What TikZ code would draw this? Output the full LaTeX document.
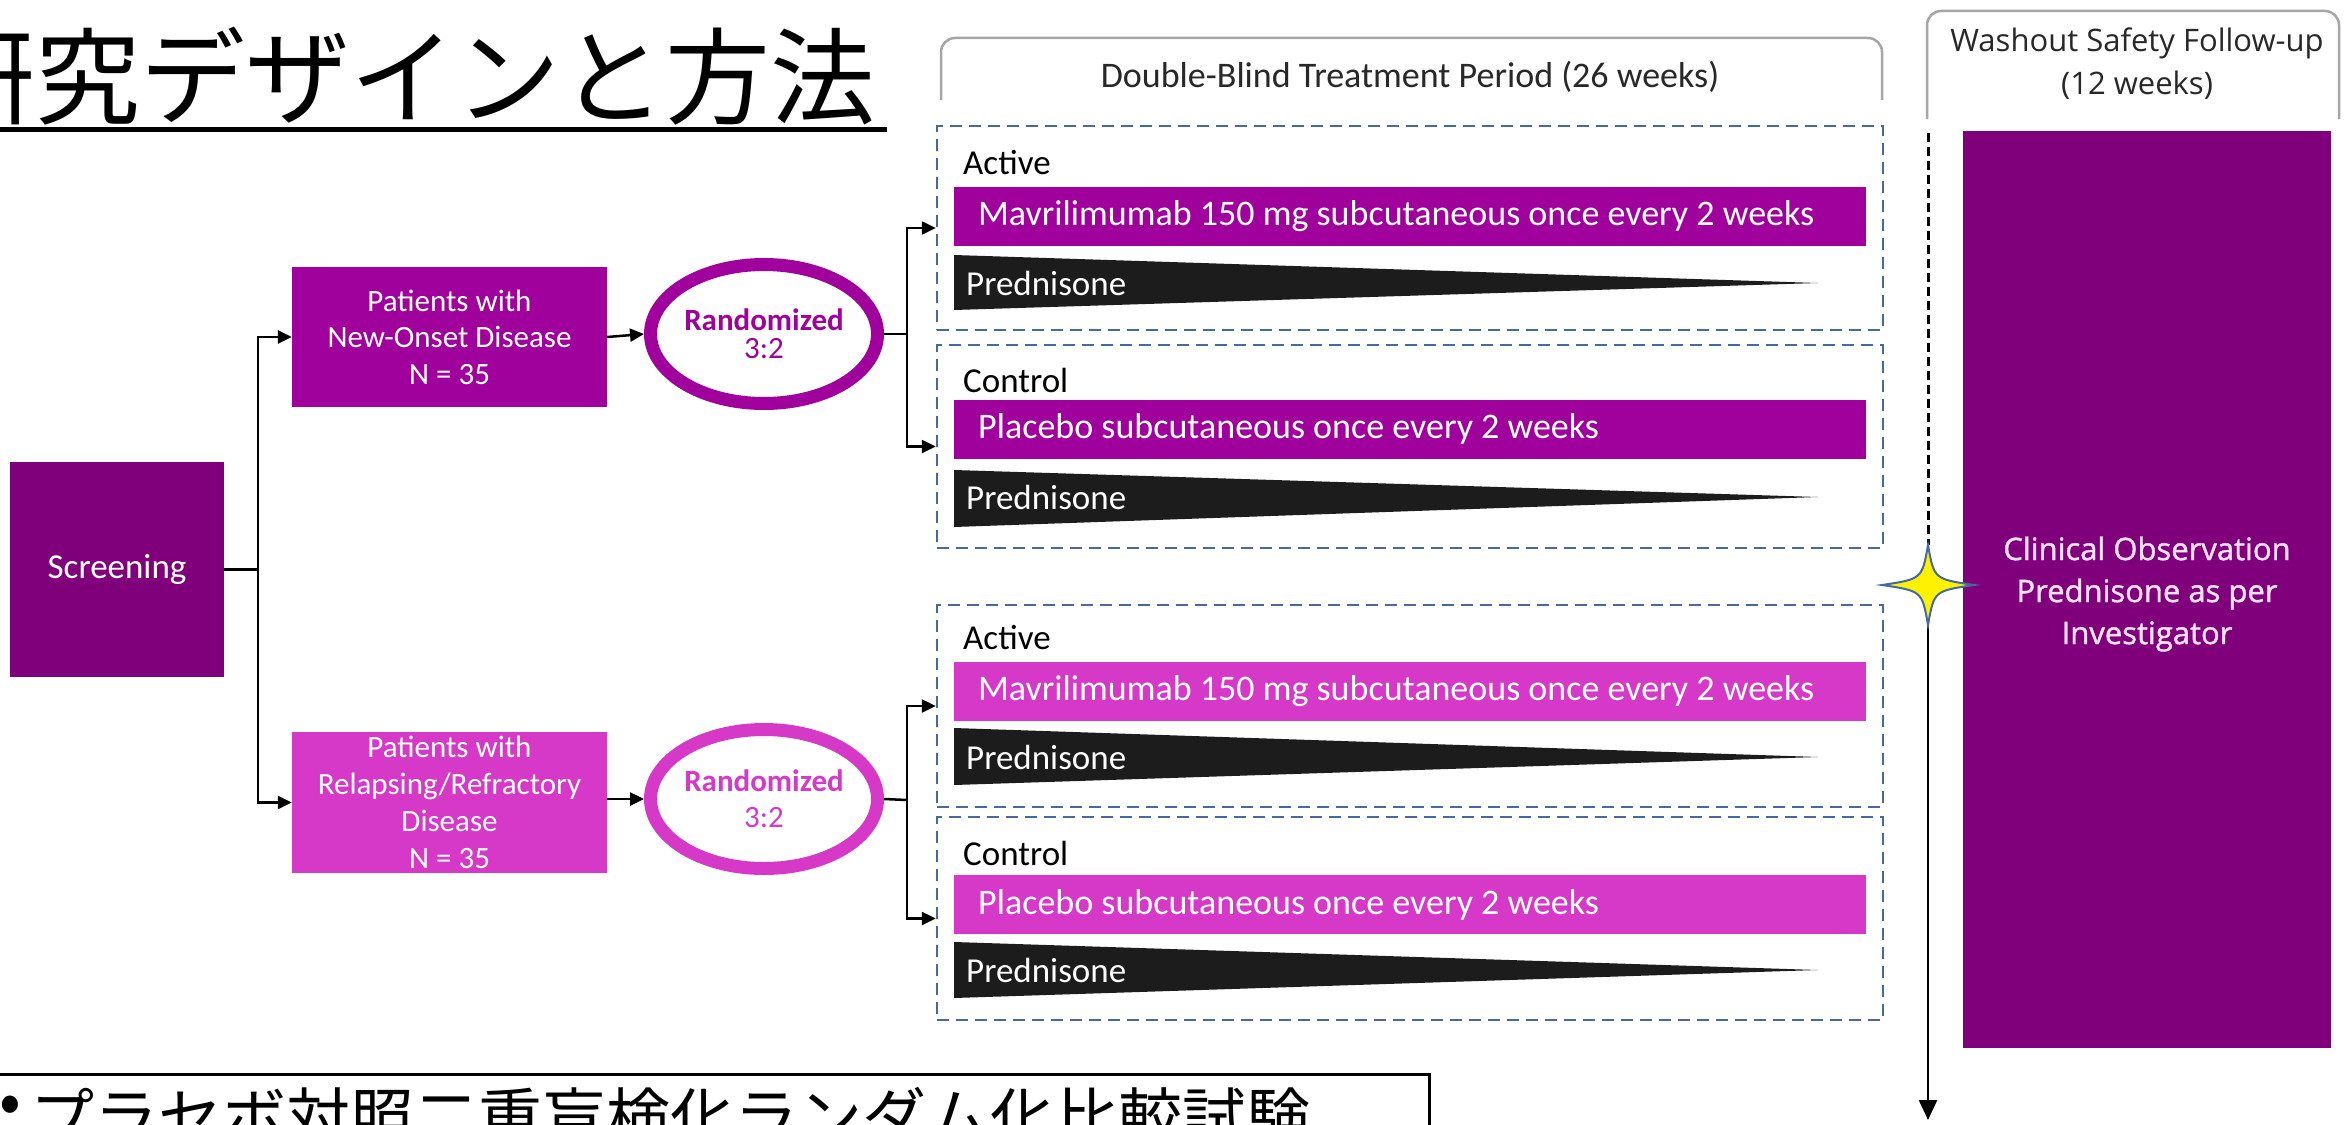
\documentclass[tikz,border=0pt]{standalone}
\usepackage{fontspec}
\setmainfont{Carlito}
\newfontfamily\osans{Open Sans}
\newfontfamily\osansb[FakeBold=1.2]{Open Sans}
\newfontfamily\cjk{Noto Sans CJK JP}
\usetikzlibrary{shapes.geometric,arrows.meta}
\definecolor{dpurp}{RGB}{128,0,124}
\definecolor{mpurp}{RGB}{160,0,155}
\definecolor{lmag}{RGB}{214,56,200}
\definecolor{dblue}{RGB}{70,105,160}
\definecolor{wedgec}{RGB}{28,28,28}
\definecolor{hgray}{RGB}{166,166,166}
\definecolor{txtdark}{RGB}{40,40,40}
\definecolor{pinkw}{RGB}{246,226,244}
\begin{document}
\begin{tikzpicture}[x=1pt,y=-1pt,
  conn/.style={line width=2.5pt, black},
  arr/.style={-{Triangle[length=14pt,width=13pt]}},
  pbox/.style={rectangle, inner sep=0pt, text=white, align=center},
  ring/.style={ellipse, line width=13pt, fill=white, minimum width=227pt, minimum height=139pt, inner sep=0pt, align=center},
  armbox/.style={rectangle, draw=dblue, dash pattern=on 12pt off 7pt, line width=2.5pt, minimum width=946pt, inner sep=0pt},
  bar/.style={rectangle, minimum height=59pt, minimum width=912pt, inner sep=0pt},
  bartext/.style={anchor=west, inner sep=0pt, text=white, font=\fontsize{36}{40}\selectfont},
  lbl/.style={anchor=west, inner sep=0pt, font=\fontsize{35}{40}\selectfont, text=black},
  pred/.style={anchor=west, inner sep=0pt, font=\fontsize{35}{40}\selectfont, text=white},
  header/.style={hgray, line width=2.5pt, rounded corners=14pt}
]
\useasboundingbox (0,0) rectangle (2344,1124);
\fill[white] (0,0) rectangle (2344,1124);
\clip (0,0) rectangle (2344,1124);

% title
\node[anchor=base west, inner sep=0pt, font=\cjk\fontsize{105}{105}\selectfont] (title) at (-70,116) {研究デザインと方法};
\draw[line width=5pt] (0,129) -- (887,129);

% left flow
\node[pbox, fill=dpurp, minimum width=214pt, minimum height=215pt, font=\fontsize{35}{40}\selectfont] (scr) at (117,569.5) {Screening};
\node[pbox, fill=mpurp, minimum width=315pt, minimum height=140pt, font=\fontsize{31}{36.5}\selectfont] (new) at (449.5,337) {Patients with\\New-Onset Disease\\N = 35};
\node[pbox, fill=lmag, minimum width=315pt, minimum height=141pt, font=\fontsize{31}{37}\selectfont] (rel) at (449.5,802.5) {Patients with\\Relapsing/Refractory\\Disease\\N = 35};
\node[ring, draw=mpurp, text=mpurp, font=\fontsize{31}{28}\selectfont] (e1) at (764,334) {\textbf{Randomized}\\3:2};
\node[ring, draw=lmag, text=lmag, font=\fontsize{31}{36}\selectfont] (e2) at (764,799) {\textbf{Randomized}\\3:2};

\coordinate (j1) at (258,569.5);
\draw[conn] (scr.east) -- (j1);
\draw[conn, arr] (j1) |- (new.west);
\draw[conn, arr] (j1) |- (rel.west);
\draw[conn, arr] (new.east) -- (e1.west);
\draw[conn, arr] (rel.east |- e2.west) -- (e2.west);

% arm boxes
\node[armbox, minimum height=204pt] (b1) at (1410,228) {};
\node[armbox, minimum height=203pt] (b2) at (1410,446.5) {};
\node[armbox, minimum height=202pt] (b3) at (1410,706) {};
\node[armbox, minimum height=203pt] (b4) at (1410,918.5) {};

\coordinate (j2) at (907,334);
\coordinate (j3) at (907,800);
\draw[conn] (e1.east) -- (j2);
\draw[conn] (e2.east) -- (j3);
\draw[conn, arr] (j2) |- (b1.west);
\draw[conn, arr] (j2) |- (b2.west);
\draw[conn, arr] (j3) |- (b3.west);
\draw[conn, arr] (j3) |- (b4.west);

\node[lbl] (l1) at (963,163) {Active};
\node[lbl] (l2) at (963,380) {Control};
\node[lbl] (l3) at (963,638) {Active};
\node[lbl] (l4) at (963,853) {Control};

\node[bar, fill=mpurp] (bar1) at (1410,216.5) {};
\node[bar, fill=mpurp] (bar2) at (1410,429) {};
\node[bar, fill=lmag] (bar3) at (1410,691) {};
\node[bar, fill=lmag] (bar4) at (1410,904.5) {};
\node[bartext] (t1) at (978,216.5) {Mavrilimumab 150 mg subcutaneous once every 2 weeks};
\node[bartext] (t2) at (978,429) {Placebo subcutaneous once every 2 weeks};
\node[bartext] (t3) at (978,691) {Mavrilimumab 150 mg subcutaneous once every 2 weeks};
\node[bartext] (t4) at (978,904.5) {Placebo subcutaneous once every 2 weeks};

\fill[wedgec] (954,255) -- (1818,283) -- (954,310) -- cycle;
\fill[wedgec] (954,470) -- (1818,497) -- (954,527) -- cycle;
\fill[wedgec] (954,728) -- (1818,757) -- (954,785) -- cycle;
\fill[wedgec] (954,942) -- (1818,970) -- (954,998) -- cycle;
\node[pred] (p1) at (966,283) {Prednisone};
\node[pred] (p2) at (966,497) {Prednisone};
\node[pred] (p3) at (966,757) {Prednisone};
\node[pred] (p4) at (966,970) {Prednisone};

% headers
\draw[header] (941,100) -- (941,38) -- (1882,38) -- (1882,100);
\node[inner sep=0pt, font=\fontsize{36}{40}\selectfont, text=txtdark] (dbt) at (1410,77) {Double-Blind Treatment Period (26 weeks)};
\draw[header] (1927,119) -- (1927,11) -- (2339,11) -- (2339,119);
\node[inner sep=0pt, align=center, font=\osans\fontsize{31}{43}\selectfont, text=txtdark] (wh) at (2137,64) {Washout Safety Follow-up\\(12 weeks)};

% follow-up box
\node[pbox, fill=dpurp, minimum width=368pt, minimum height=917pt] (clin) at (2147,589.5) {};
\node[inner sep=0pt, align=center, text=pinkw, font=\osansb\fontsize{31}{42}\selectfont] (clint) at (2147,594) {Clinical Observation\\Prednisone as per\\Investigator};

% timeline with star
\coordinate (dtop) at (1928,133);
\coordinate (sN) at (1928,545);
\coordinate (sE) at (1974,585);
\coordinate (sS) at (1928,625);
\coordinate (sW) at (1882,585);
\coordinate (aend) at (1928,1120);
\draw[line width=3pt, dash pattern=on 9pt off 5pt] (dtop) -- (sN);
\draw[conn, -{Triangle[length=20pt,width=18pt]}] (sS) -- (aend);
\filldraw[fill=yellow, draw=dblue, line width=2pt] (sN) .. controls (1934,579) .. (sE) .. controls (1934,591) .. (sS) .. controls (1922,591) .. (sW) .. controls (1922,579) .. (sN) -- cycle;

% bottom box
\draw[line width=3pt] (0,1074) -- (1429,1074) -- (1429,1130);
\node[inner sep=0pt, font=\cjk\fontsize{64}{64}\selectfont] (bul) at (10,1110) {•};
\node[anchor=base west, inner sep=0pt, font=\cjk\fontsize{64}{64}\selectfont] (sub) at (30,1141) {プラセボ対照二重盲検化ランダム化比較試験};
\end{tikzpicture}
\end{document}
